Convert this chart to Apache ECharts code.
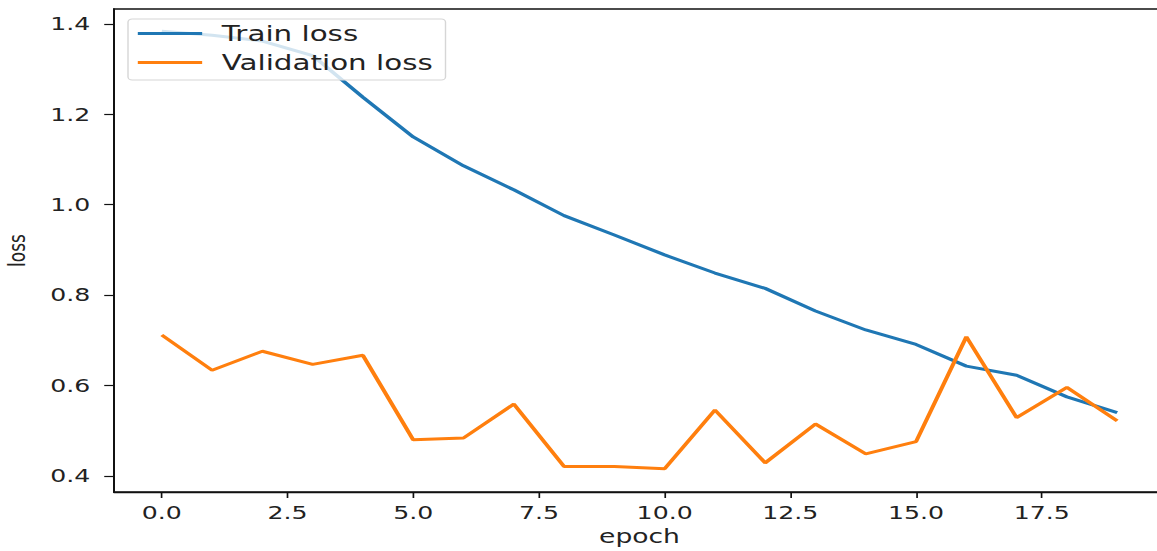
<!DOCTYPE html>
<html>
<head>
<meta charset="utf-8">
<script src="https://cdn.jsdelivr.net/npm/echarts@6/dist/echarts.min.js"></script>
<style>
  html, body { margin: 0; padding: 0; background: #fff; overflow: hidden; }
  #wrap { width: 1157px; height: 551px; overflow: hidden; }
  /* the figure is laid out narrow and widened horizontally */
  #chart { width: 827px; height: 551px; transform: scaleX(1.39903); transform-origin: 0 0; }
</style>
</head>
<body>
<div id="wrap"><div id="chart"></div></div>
<script>
const epochs = [0,1,2,3,4,5,6,7,8,9,10,11,12,13,14,15,16,17,18,19];
const trainLoss = [1.384,1.375,1.362,1.330,1.238,1.150,1.086,1.033,0.976,0.933,0.889,0.849,0.815,0.765,0.723,0.691,0.643,0.623,0.575,0.540];
const valLoss = [0.712,0.634,0.676,0.647,0.667,0.480,0.484,0.559,0.421,0.421,0.416,0.546,0.429,0.515,0.449,0.476,0.708,0.529,0.596,0.522];
const xTicks = [0,2.5,5,7.5,10,12.5,15,17.5];
const yTicks = [0.4,0.6,0.8,1.0,1.2,1.4];
const seriesNames = ['Train loss', 'Validation loss'];
const colors = ['#1f77b4', '#ff7f0e'];

const FONT = 'DejaVu Sans';
const TXT = '#222';

const chart = echarts.init(document.getElementById('chart'), null, { renderer: 'svg' });
chart.setOption({
  animation: false,
  backgroundColor: '#fff',
  grid: {
    left: 81.5, right: -5.7, top: 9, bottom: 59,
    outerBoundsMode: 'none', containLabel: false,
    show: true, borderColor: '#111', borderWidth: 1.4, backgroundColor: 'transparent'
  },
  legend: {
    orient: 'vertical',
    left: 91.5, top: 19,
    data: seriesNames,
    icon: 'rect',
    itemWidth: 46, itemHeight: 2.8, itemGap: 8,
    padding: [4, 9, 7, 7],
    backgroundColor: 'rgba(255,255,255,0.8)',
    borderColor: '#d6d6d6', borderWidth: 1, borderRadius: 3,
    textStyle: { fontFamily: FONT, fontSize: 21, color: TXT, lineHeight: 20, padding: [0, 0, 0, 9] },
    z: 100
  },
  xAxis: {
    type: 'value', min: -0.95, max: 19.95,
    name: 'epoch', nameLocation: 'middle', nameGap: 35,
    nameTextStyle: { fontFamily: FONT, fontSize: 19, color: TXT },
    axisLine: { show: true, onZero: false, lineStyle: { color: '#111', width: 1.4 } },
    axisTick: { show: true, customValues: xTicks, length: 6, lineStyle: { color: '#111', width: 1.2 } },
    axisLabel: {
      customValues: xTicks, margin: 12,
      fontFamily: FONT, fontSize: 18, color: TXT,
      formatter: v => v.toFixed(1)
    },
    splitLine: { show: false }
  },
  yAxis: {
    type: 'value', min: 0.3646, max: 1.433,
    name: 'loss', nameLocation: 'middle', nameGap: 61,
    nameTextStyle: { fontFamily: FONT, fontSize: 17, color: TXT },
    axisLine: { show: true, onZero: false, lineStyle: { color: '#111', width: 1.4 } },
    axisTick: { show: true, customValues: yTicks, length: 7, lineStyle: { color: '#111', width: 1.2 } },
    axisLabel: {
      customValues: yTicks, margin: 17,
      fontFamily: FONT, fontSize: 18, color: TXT,
      formatter: v => v.toFixed(1)
    },
    splitLine: { show: false }
  },
  series: seriesNames.map((name, k) => ({
    name, type: 'line', symbol: 'none', z: 1,
    data: epochs.map((e, i) => [e, (k === 0 ? trainLoss : valLoss)[i]]),
    lineStyle: { color: colors[k], width: 3 }, itemStyle: { color: colors[k] }
  }))
});
</script>
</body>
</html>
